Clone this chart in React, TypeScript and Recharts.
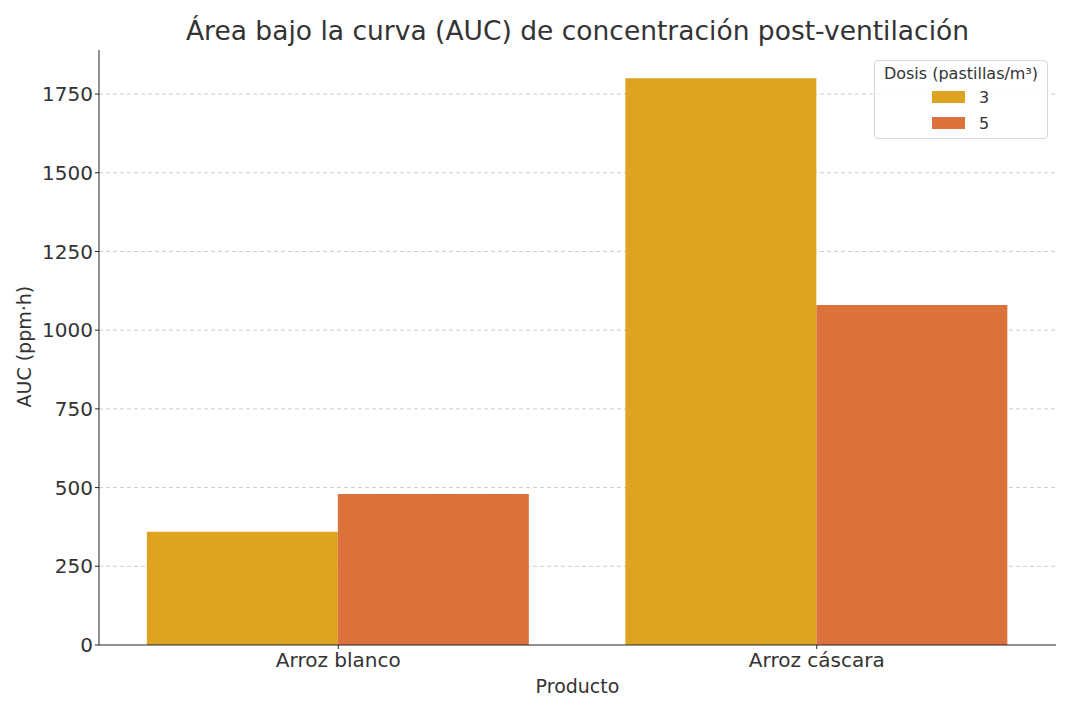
import React from "react";
import { Bar, BarChart, CartesianGrid, XAxis, YAxis } from "recharts";

const productos = ["Arroz blanco", "Arroz cáscara"];
const dosis3 = [360, 1800];
const dosis5 = [480, 1080];
const yTicks = [0, 250, 500, 750, 1000, 1250, 1500, 1750];

const data = productos.map((p, i) => ({ producto: p, d3: dosis3[i], d5: dosis5[i] }));

const FONT = "DejaVu Sans, sans-serif";
const TEXT = "#333333";
const COLOR3 = "#DFA322";
const COLOR5 = "#DC723B";

function DosisLegend() {
  return (
    <div
      style={{
        position: "absolute",
        top: 60,
        left: 874,
        width: 174,
        height: 79,
        border: "1px solid #d6d6d6",
        borderRadius: 4,
        background: "rgba(255,255,255,0.85)",
        fontFamily: FONT,
        color: TEXT,
        boxSizing: "border-box",
        paddingTop: 3,
      }}
    >
      <div style={{ fontSize: 16, textAlign: "center", lineHeight: "20px" }}>Dosis (pastillas/m³)</div>
      {[
        { label: "3", color: COLOR3 },
        { label: "5", color: COLOR5 },
      ].map((e) => (
        <div key={e.label} style={{ display: "flex", alignItems: "center", height: 26, paddingLeft: 57 }}>
          <span style={{ width: 33, height: 12, background: e.color, display: "inline-block" }} />
          <span style={{ fontSize: 16, marginLeft: 14 }}>{e.label}</span>
        </div>
      ))}
    </div>
  );
}

export default function App() {
  return (
    <div style={{ position: "absolute", left: 0, top: 0, width: 1078, height: 710, background: "#fff" }}>
      <div
        style={{
          position: "absolute",
          top: 15,
          left: 99,
          width: 957,
          textAlign: "center",
          fontFamily: FONT,
          fontSize: 26.5,
          color: TEXT,
        }}
      >
        Área bajo la curva (AUC) de concentración post-ventilación
      </div>
      <BarChart
        width={1078}
        height={710}
        data={data}
        margin={{ top: 50, right: 22, left: 39, bottom: 35 }}
        barGap={0}
        barCategoryGap="10%"
      >
        <CartesianGrid vertical={false} horizontalValues={yTicks.slice(1)} strokeDasharray="4 3" stroke="#cccccc" />
        <XAxis
          dataKey="producto"
          height={30}
          stroke="#222"
          tickSize={4}
          tick={{ fill: TEXT, fontSize: 20, fontFamily: FONT, dy: 2 }}
          label={{ value: "Producto", position: "insideBottom", offset: -18, fill: TEXT, fontSize: 19, fontFamily: FONT }}
        />
        <YAxis
          width={60}
          domain={[0, 1890]}
          ticks={yTicks}
          stroke="#222"
          tickSize={4}
          tick={{ fill: TEXT, fontSize: 20, fontFamily: FONT }}
          label={{ value: "AUC (ppm·h)", angle: -90, position: "insideLeft", offset: -15, dy: 60, fill: TEXT, fontSize: 19, fontFamily: FONT }}
        />
        <Bar dataKey="d3" name="3" fill={COLOR3} isAnimationActive={false} />
        <Bar dataKey="d5" name="5" fill={COLOR5} isAnimationActive={false} />
      </BarChart>
      <DosisLegend />
    </div>
  );
}
